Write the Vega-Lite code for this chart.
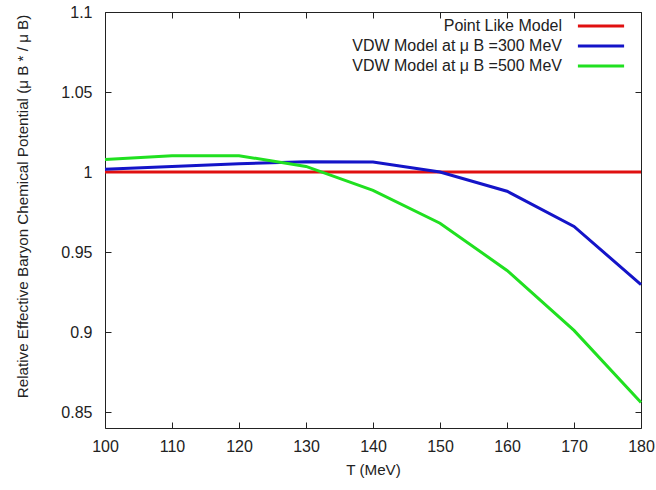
{
  "$schema": "https://vega.github.io/schema/vega-lite/v6.json",
  "autosize": {"type": "none"},
  "width": 536,
  "height": 416,
  "padding": {"left": 105, "top": 12, "right": 15, "bottom": 62},
  "background": "white",
  "config": {
    "view": {"stroke": "#222222", "strokeWidth": 1},
    "font": "Liberation Sans",
    "axis": {"grid": false, "domain": false, "labelColor": "#222222", "titleColor": "#222222", "labelFontSize": 16, "titleFontSize": 15.2, "titleFontWeight": "normal", "labelFont": "Liberation Sans", "titleFont": "Liberation Sans", "labelFlush": false, "labelOverlap": false, "zindex": 1}
  },
  "data": {"values": [
    {"T": 100, "v": 1.0, "s": "Point Like Model"},
    {"T": 110, "v": 1.0, "s": "Point Like Model"},
    {"T": 120, "v": 1.0, "s": "Point Like Model"},
    {"T": 130, "v": 1.0, "s": "Point Like Model"},
    {"T": 140, "v": 1.0, "s": "Point Like Model"},
    {"T": 150, "v": 1.0, "s": "Point Like Model"},
    {"T": 160, "v": 1.0, "s": "Point Like Model"},
    {"T": 170, "v": 1.0, "s": "Point Like Model"},
    {"T": 180, "v": 1.0, "s": "Point Like Model"},
    {"T": 100, "v": 1.0017, "s": "VDW Model at  μ B =300 MeV"},
    {"T": 110, "v": 1.0035, "s": "VDW Model at  μ B =300 MeV"},
    {"T": 120, "v": 1.0052, "s": "VDW Model at  μ B =300 MeV"},
    {"T": 130, "v": 1.0064, "s": "VDW Model at  μ B =300 MeV"},
    {"T": 140, "v": 1.0062, "s": "VDW Model at  μ B =300 MeV"},
    {"T": 150, "v": 1.0, "s": "VDW Model at  μ B =300 MeV"},
    {"T": 160, "v": 0.988, "s": "VDW Model at  μ B =300 MeV"},
    {"T": 170, "v": 0.966, "s": "VDW Model at  μ B =300 MeV"},
    {"T": 180, "v": 0.9296, "s": "VDW Model at  μ B =300 MeV"},
    {"T": 100, "v": 1.0078, "s": "VDW Model at  μ B =500 MeV"},
    {"T": 110, "v": 1.0102, "s": "VDW Model at  μ B =500 MeV"},
    {"T": 120, "v": 1.0102, "s": "VDW Model at  μ B =500 MeV"},
    {"T": 130, "v": 1.0035, "s": "VDW Model at  μ B =500 MeV"},
    {"T": 140, "v": 0.9885, "s": "VDW Model at  μ B =500 MeV"},
    {"T": 150, "v": 0.968, "s": "VDW Model at  μ B =500 MeV"},
    {"T": 160, "v": 0.9385, "s": "VDW Model at  μ B =500 MeV"},
    {"T": 170, "v": 0.901, "s": "VDW Model at  μ B =500 MeV"},
    {"T": 180, "v": 0.856, "s": "VDW Model at  μ B =500 MeV"}
  ]},
  "layer": [
    {
      "mark": {"type": "line", "strokeWidth": 3},
      "encoding": {
        "x": {"field": "T", "type": "quantitative", "scale": {"domain": [100, 180], "nice": false, "zero": false},
              "axis": {"orient": "bottom", "values": [100,110,120,130,140,150,160,170,180], "format": "d", "ticks": true, "tickSize": 6, "tickWidth": 1, "tickColor": "#222222", "offset": -6, "labelPadding": 10, "title": "T (MeV)", "titlePadding": 8}},
        "y": {"field": "v", "type": "quantitative", "scale": {"domain": [0.84, 1.1], "nice": false, "zero": false},
              "axis": {"orient": "left", "values": [0.85,0.9,0.95,1.0,1.05,1.1], "format": "~g", "ticks": true, "tickSize": 6, "tickWidth": 1, "tickColor": "#222222", "offset": -6, "labelPadding": 13, "title": "Relative Effective Baryon Chemical Potential (μ B * / μ B)", "titlePadding": 30, "titleY": 194}},
        "color": {"field": "s", "type": "nominal",
                  "scale": {"domain": ["Point Like Model", "VDW Model at  μ B =300 MeV", "VDW Model at  μ B =500 MeV"], "range": ["#e01010", "#1414c8", "#20e020"]},
                  "legend": {"title": null, "orient": "none", "legendX": 484, "legendY": 2, "symbolType": "M-2.2,0H2.2", "symbolSize": 441, "symbolStrokeWidth": 3, "labelFontSize": 16, "labelAlign": "right", "labelOffset": -51, "labelColor": "#222222", "rowPadding": 0, "labelLimit": 400}}
      }
    },
    {
      "mark": {"type": "line", "opacity": 0},
      "encoding": {
        "x": {"field": "T", "type": "quantitative", "axis": {"orient": "top", "offset": -6, "ticks": true, "tickSize": 6, "tickWidth": 1, "tickColor": "#222222", "values": [100,110,120,130,140,150,160,170,180], "labels": false, "title": null}},
        "y": {"field": "v", "type": "quantitative", "axis": {"orient": "right", "offset": -6, "ticks": true, "tickSize": 6, "tickWidth": 1, "tickColor": "#222222", "values": [0.85,0.9,0.95,1.0,1.05,1.1], "labels": false, "title": null}},
        "detail": {"field": "s"}
      }
    }
  ],
  "resolve": {"axis": {"x": "independent", "y": "independent"}}
}
